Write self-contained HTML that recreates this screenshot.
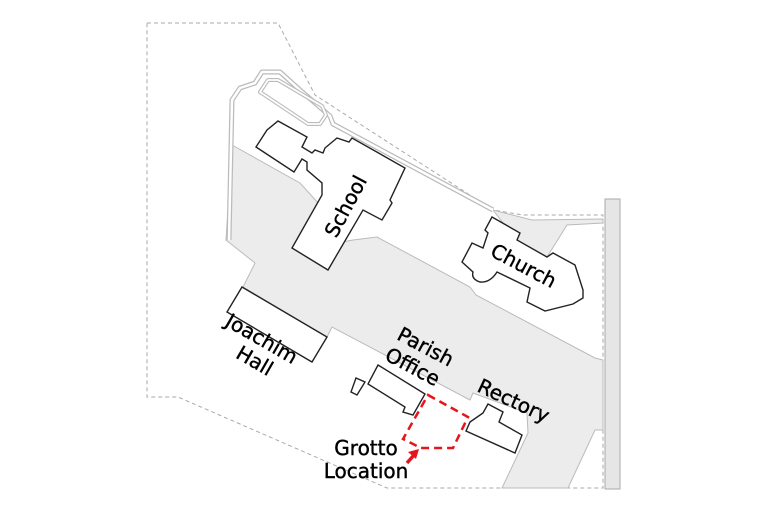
<!DOCTYPE html>
<html><head><meta charset="utf-8"><style>
html,body{margin:0;padding:0;background:#fff}
svg{display:block}
text{font-family:"DejaVu Sans","Liberation Sans",sans-serif;font-size:20px;fill:#000;stroke:#000;stroke-width:0.4}
</style></head><body>
<svg width="768" height="512" viewBox="0 0 768 512" xmlns="http://www.w3.org/2000/svg">
<polyline points="147,23 278,23 315,95 493,210 523,215 603,215 603,488 387,488 178,397 147,397 147,23" fill="none" stroke="#aaa" stroke-width="1" stroke-dasharray="4,3"/>
<polygon points="232,145 300,183 320,205 300,250 353,240 377,237 470,287 476,295 595,358 603,360 603,430 595,430 568,488 502,488 528,433 527,413 473,393 470,400 332,327 327,337 243,287 255,263 226,240" fill="#ececec" stroke="#bbb" stroke-width="1"/>
<polygon points="493,210 532,220 603,219 603,223 567,225 547,257 520,245" fill="#ececec" stroke="#bbb" stroke-width="1"/>
<rect x="605" y="199" width="15" height="290" fill="#e6e6e6" stroke="#aaa" stroke-width="1"/>
<g fill="none" stroke-linejoin="round">
<polyline points="229,240 232,100 240,88 255,83 262,72 280,72 300,90 330,116 333,124 493,210" stroke="#bbb" stroke-width="5"/>
<polyline points="229,240 232,100 240,88 255,83 262,72 280,72 300,90 330,116 333,124 493,210" stroke="#fff" stroke-width="2.5"/>
<polygon points="260,92 268,80 278,80 322,106 326,115 320,124 308,124" stroke="#bbb" stroke-width="4"/>
<polygon points="260,92 268,80 278,80 322,106 326,115 320,124 308,124" stroke="#fff" stroke-width="1.8"/>
</g>
<g fill="#fff" stroke="#222" stroke-width="1.4" stroke-linejoin="miter">
<polygon points="256,147 267,130 278,121 307,137 302,147 312,153 315,150 323,153 325,148 337,138 349,142 352,138 405,168 390,200 392,203 382,220 363,210 328,270 292,248 322,195 322,183 307,170 307,162 302,159 294,172" />
<path d="M492,217 L520,233 L517,240 L547,257 L553,253 L575,265 L583,290 L583,298 L573,304 L545,311 L527,302 L530,288 L497,272 Q490,283 480,282 Q471,279 473,272 L462,262 L472,243 L483,248 L488,233 L485,230 Z"/>
<polygon points="242,287 327,337 312,362 227,312"/>
<polygon points="378,365 425,394 413,415 403,412 405,407 368,384"/>
<polygon points="356,378 365,382 357,395 351,392"/>
<polygon points="488,404 503,412 499,422 522,435 515,453 466,431 470,422 483,413"/>
</g>
<polygon points="428,395 468,417 453,448 420,448 415,445 403,439" fill="none" stroke="#e8141b" stroke-width="2.5" stroke-dasharray="8,5"/>
<line x1="407" y1="463" x2="414" y2="455" stroke="#e8141b" stroke-width="3.5"/>
<polygon points="419,449 408,452 416,459" fill="#e8141b"/>
<text transform="translate(347,207) rotate(-62)" text-anchor="middle" dominant-baseline="middle">School</text>
<text transform="translate(523,267) rotate(28)" text-anchor="middle" dominant-baseline="middle">Church</text>
<text transform="translate(261,340) rotate(30)" text-anchor="middle" dominant-baseline="middle">Joachim</text>
<text transform="translate(254,362) rotate(30)" text-anchor="middle" dominant-baseline="middle">Hall</text>
<text transform="translate(425,348) rotate(28)" text-anchor="middle" dominant-baseline="middle">Parish</text>
<text transform="translate(412,368) rotate(28)" text-anchor="middle" dominant-baseline="middle">Office</text>
<text transform="translate(513,402) rotate(25)" text-anchor="middle" dominant-baseline="middle">Rectory</text>
<text x="366" y="455" text-anchor="middle">Grotto</text>
<text x="366" y="478" text-anchor="middle">Location</text>
</svg>
</body></html>
